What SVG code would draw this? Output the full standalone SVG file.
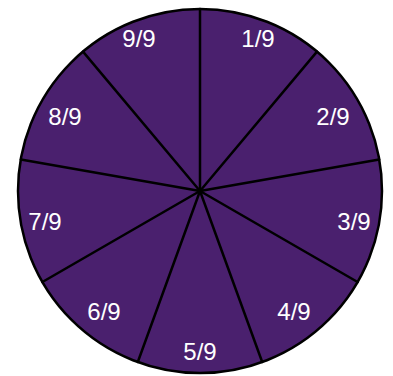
<svg xmlns="http://www.w3.org/2000/svg" width="393" height="376" viewBox="0 0 393 376">
<style>
.disc{fill:#4a206e;stroke:#000;stroke-width:2.5}
.sep{stroke:#000;stroke-width:2.5;stroke-linecap:round}
.lbl{font-family:"Liberation Sans",Arial,sans-serif;font-size:24px;fill:#fff;text-anchor:middle}
</style>
<rect width="393" height="376" fill="#fff"/>
<g id="pie"><circle class="disc" cx="200" cy="191" r="182"/></g>
<g id="connectors">
<line class="sep" x1="200" y1="191" x2="200" y2="9"/>
<line class="sep" x1="200" y1="191" x2="317" y2="51.6"/>
<line class="sep" x1="200" y1="191" x2="379.2" y2="159.4"/>
<line class="sep" x1="200" y1="191" x2="357.6" y2="282"/>
<line class="sep" x1="200" y1="191" x2="262.2" y2="362"/>
<line class="sep" x1="200" y1="191" x2="137.8" y2="362"/>
<line class="sep" x1="200" y1="191" x2="42.4" y2="282"/>
<line class="sep" x1="200" y1="191" x2="20.8" y2="159.4"/>
<line class="sep" x1="200" y1="191" x2="83" y2="51.6"/>
</g>
<g id="s1"><text class="lbl" x="258" y="47">1/9</text></g>
<g id="s2"><text class="lbl" x="333" y="125">2/9</text></g>
<g id="s3"><text class="lbl" x="354" y="230">3/9</text></g>
<g id="s4"><text class="lbl" x="294" y="320">4/9</text></g>
<g id="s5"><text class="lbl" x="200" y="360">5/9</text></g>
<g id="s6"><text class="lbl" x="104" y="320">6/9</text></g>
<g id="s7"><text class="lbl" x="45" y="230">7/9</text></g>
<g id="s8"><text class="lbl" x="65" y="125">8/9</text></g>
<g id="s9"><text class="lbl" x="139" y="47">9/9</text></g>
</svg>
